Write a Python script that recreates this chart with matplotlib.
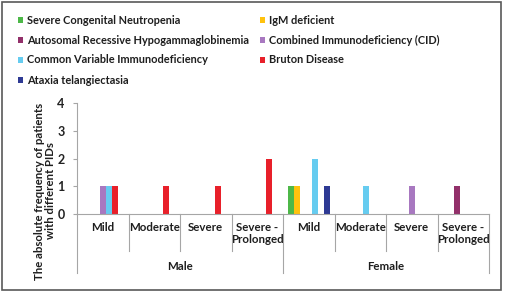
import matplotlib
matplotlib.use("Agg")
import matplotlib.pyplot as plt
import matplotlib.transforms as mtransforms
from matplotlib.patches import Rectangle
from matplotlib.lines import Line2D
import numpy as np

plt.rcParams['font.family'] = ['Lato', 'DejaVu Sans']
plt.rcParams['font.weight'] = 'bold'

severity = ["Mild", "Moderate", "Severe", "Severe -\nProlonged",
            "Mild", "Moderate", "Severe", "Severe -\nProlonged"]
genders = ["Male", "Female"]
series_names = ["Severe Congenital Neutropenia", "IgM deficient",
                "Autosomal Recessive Hypogammaglobinemia", "Combined Immunodeficiency (CID)",
                "Common Variable Immunodeficiency", "Bruton Disease", "Ataxia telangiectasia"]
colors = ["#4DB848", "#FFC20E", "#92306A", "#A878C0", "#66CCF0", "#E8202A", "#2E3A94"]

scn   = [0, 0, 0, 0, 1, 0, 0, 0]
igm   = [0, 0, 0, 0, 1, 0, 0, 0]
arh   = [0, 0, 0, 0, 0, 0, 0, 1]
cid   = [1, 0, 0, 0, 0, 0, 1, 0]
cvid  = [1, 0, 0, 0, 2, 1, 0, 0]
bruton = [1, 1, 1, 2, 0, 0, 0, 0]
ataxia = [0, 0, 0, 0, 1, 0, 0, 0]
series = [scn, igm, arh, cid, cvid, bruton, ataxia]

W, H = 505, 291
fig = plt.figure(figsize=(W / 100, H / 100), dpi=100)

# axes in pixel coordinates
x0, x1, ytop, ybot = 77, 489, 103, 214
ax = fig.add_axes([x0 / W, 1 - ybot / H, (x1 - x0) / W, (ybot - ytop) / H])

n = len(severity)
x = np.arange(n)
bw = 6 / ((x1 - x0) / n)
for i, (vals, c) in enumerate(zip(series, colors)):
    ax.bar(x + (i - 3) * bw, vals, width=bw, color=c, linewidth=0)

ax.set_xlim(-0.5, n - 0.5)
ax.set_ylim(0, 4)
ax.set_yticks([0, 1, 2, 3, 4])
ax.set_xticks([])
for s in ["top", "right"]:
    ax.spines[s].set_visible(False)
axis_col = "#A6A6A6"
ax.spines["left"].set_color(axis_col)
ax.spines["bottom"].set_color(axis_col)
ax.tick_params(axis="y", colors=axis_col, length=3, width=0.8, labelsize=9,
               labelcolor="#222222", pad=6)
for lbl in ax.get_yticklabels():
    lbl.set_fontweight("bold")

trans = mtransforms.blended_transform_factory(ax.transData, fig.transFigure)
def fy(py):
    return 1 - py / H

txt_col = "#1E1E1E"
fs_cat = 8.3
fs_leg = 7.95
# first tier labels
for i, lab in enumerate(severity):
    ax.text(i, fy(222), lab, transform=trans, ha="center", va="top",
            fontsize=fs_cat, fontweight="bold", color=txt_col, linespacing=1.15)
# dividers first tier
for b in range(n + 1):
    xb = b - 0.5
    bottom = 273 if b in (0, 4, 8) else 251
    fig.add_artist(Line2D([xb, xb], [fy(214), fy(bottom)], transform=trans,
                          color=axis_col, lw=0.8))
# second tier
for g, lab in enumerate(genders):
    ax.text(g * 4 + 1.5, fy(266), lab, transform=trans, ha="center", va="center",
            fontsize=fs_cat, fontweight="bold", color=txt_col)

# y label
fig.text(45 / W, fy(191), "The absolute frequency of patients\nwith different PIDs",
         rotation=90, ha="center", va="center", fontsize=8.2, fontweight="bold",
         color=txt_col, linespacing=1.1)

# legend (manual, Excel-like row-wise layout)
leg_rows = [20, 40, 60, 80]
leg_cols = [18, 260]
for k, (name, c) in enumerate(zip(series_names, colors)):
    r, col = divmod(k, 2)
    px, py = leg_cols[col], leg_rows[r]
    fig.add_artist(Rectangle((px / W, fy(py + 2.5)), 5 / W, 5 / H,
                             transform=fig.transFigure, color=c, lw=0))
    fig.text((px + 9) / W, fy(py), name, ha="left", va="center",
             fontsize=fs_leg, fontweight="bold", color=txt_col)

# outer frame
fig.add_artist(Rectangle((1.5 / W, 1.5 / H), (W - 6) / W, (H - 3.5) / H,
                         transform=fig.transFigure, fill=False,
                         edgecolor="#595959", lw=1.2))

fig.savefig("out.png", dpi=100)
